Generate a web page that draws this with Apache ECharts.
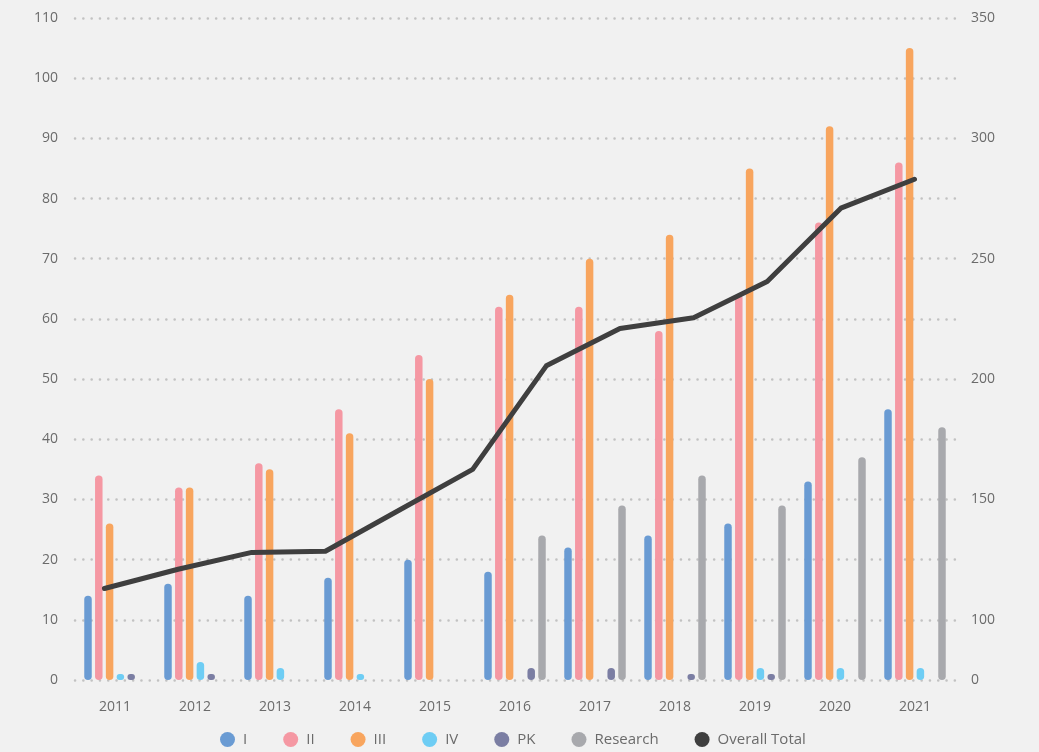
<!DOCTYPE html>
<html>
<head>
<meta charset="utf-8">
<script src="https://cdn.jsdelivr.net/npm/echarts@6/dist/echarts.min.js"></script>
<style>
html,body{margin:0;padding:0;background:#f1f1f1;}
#chart{width:1039px;height:752px;}
</style>
</head>
<body>
<div id="chart"></div>
<script>
const years = ['2011','2012','2013','2014','2015','2016','2017','2018','2019','2020','2021'];
const seriesI        = [14, 16, 14, 17, 20, 18, 22, 24, 26, 33, 45];
const seriesII       = [34, 32, 36, 45, 54, 62, 62, 58, 64, 76, 86];
const seriesIII      = [26, 32, 35, 41, 50, 64, 70, 74, 85, 92, 105];
const seriesIV       = [1, 3, 2, 1, 0, 0, 0, 0, 2, 2, 2];
const seriesPK       = [1, 1, 0, 0, 0, 2, 2, 1, 1, 0, 0];
const seriesResearch = [0, 0, 0, 0, 0, 24, 29, 34, 29, 37, 42];
const overallTotal   = [113, 121, 128, 128.5, 145.5, 162.5, 205.5, 221, 225.5, 240.5, 271, 283];
const leftTicks = {min: 0, max: 110, interval: 10};
const rightTicks = {min: 75, max: 350, interval: 25};

const colors = ['#6a9bd3', '#f598a3', '#f8a55e', '#6ecdf4', '#7b7ea3', '#a8a9ad', '#3f3f3f'];
const font = '"Open Sans", "Noto Sans", sans-serif';

function bar(name, data, color) {
  return {
    name: name, type: 'bar', data: data,
    xAxisIndex: 0, yAxisIndex: 0,
    barWidth: 7.5, barGap: '44%',
    itemStyle: {color: color, borderRadius: 4},
    emphasis: {disabled: true}
  };
}

const chart = echarts.init(document.getElementById('chart'));
chart.setOption({
  backgroundColor: '#f1f1f1',
  animation: false,
  color: colors,
  textStyle: {fontFamily: font},
  grid: {left: 75, right: 84, top: 18, bottom: 72, containLabel: false},
  legend: {
    bottom: 0, left: 215,
    icon: 'circle', itemWidth: 15, itemHeight: 15, itemGap: 36,
    textStyle: {color: '#6b6b6b', fontSize: 15, fontFamily: font, padding: [0, 0, 0, 3]},
    data: ['I', 'II', 'III', 'IV', 'PK', 'Research', 'Overall Total']
  },
  xAxis: [
    {
      type: 'category', data: years, position: 'bottom',
      axisLine: {show: false}, axisTick: {show: false},
      axisLabel: {color: '#6b6b6b', fontSize: 14, margin: 20, fontFamily: font}
    },
    {
      type: 'value', min: -0.4, max: 11.55, position: 'top', show: false,
      splitLine: {show: false}
    }
  ],
  yAxis: [
    {
      type: 'value', min: leftTicks.min, max: leftTicks.max, interval: leftTicks.interval,
      axisLine: {show: false}, axisTick: {show: false},
      axisLabel: {color: '#6b6b6b', fontSize: 14, margin: 17, fontFamily: font},
      splitLine: {lineStyle: {color: '#c2c2c2', width: 2.5, type: [0.1, 8.2], cap: 'round'}}
    },
    {
      type: 'value', min: rightTicks.min, max: rightTicks.max, interval: rightTicks.interval,
      position: 'right',
      axisLine: {show: false}, axisTick: {show: false}, splitLine: {show: false},
      axisLabel: {
        color: '#6b6b6b', fontSize: 14, margin: 16, fontFamily: font,
        formatter: function (v) {
          if (v === rightTicks.min) return '0';
          return v % 50 === 0 ? String(v) : '';
        }
      }
    }
  ],
  series: [
    bar('I', seriesI, colors[0]),
    bar('II', seriesII, colors[1]),
    bar('III', seriesIII, colors[2]),
    bar('IV', seriesIV, colors[3]),
    bar('PK', seriesPK, colors[4]),
    bar('Research', seriesResearch, colors[5]),
    {
      name: 'Overall Total', type: 'line',
      xAxisIndex: 1, yAxisIndex: 1,
      data: overallTotal.map(function (v, i) { return [i, v]; }),
      showSymbol: false, symbol: 'circle',
      lineStyle: {color: colors[6], width: 5, cap: 'round', join: 'round'},
      itemStyle: {color: colors[6]},
      z: 5
    }
  ]
});
</script>
</body>
</html>
